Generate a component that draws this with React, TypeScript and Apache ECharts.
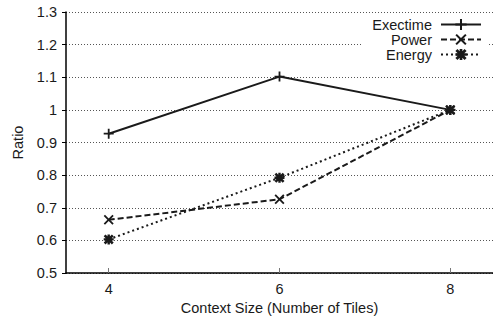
import React, { useEffect, useRef } from "react";
import * as echarts from "echarts";

const contextSizes = [4, 6, 8];
const exectime = [0.927, 1.102, 1.0];
const power = [0.663, 0.726, 1.0];
const energy = [0.603, 0.792, 1.0];
const yTicks = { min: 0.5, max: 1.3, interval: 0.1 };

const PLUS = "path://M4.1,0H5.9V4.1H10V5.9H5.9V10H4.1V5.9H0V4.1H4.1Z";
const CROSS =
  "path://M0,1.3L1.3,0L5,3.7L8.7,0L10,1.3L6.3,5L10,8.7L8.7,10L5,6.3L1.3,10L0,8.7L3.7,5Z";
const STAR =
  "path://M3.8,0H6.2V3.8H10V6.2H6.2V10H3.8V6.2H0V3.8H3.8Z M0,1.8L1.8,0L5,3.2L8.2,0L10,1.8L6.8,5L10,8.2L8.2,10L5,6.8L1.8,10L0,8.2L3.2,5Z";

const FONT = "Liberation Sans";
const INK = "#1a1a1a";
const FS = 14.5;

export default function App() {
  const ref = useRef<HTMLDivElement>(null);
  useEffect(() => {
    if (!ref.current) return;
    const chart = echarts.init(ref.current, null, { renderer: "svg" });
    const mk = (arr: number[]) => contextSizes.map((x, i) => [x, arr[i]]);
    chart.setOption({
      animation: false,
      backgroundColor: "#fff",
      textStyle: { fontFamily: FONT },
      grid: { left: 66, top: 12, bottom: 48, right: -8, containLabel: false },
      legend: {
        orient: "vertical",
        align: "right",
        right: 4,
        top: 14,
        padding: [3, 7, 3, 10],
        itemGap: 0,
        itemWidth: 40,
        itemHeight: 14,
        backgroundColor: "#fff",
        selectedMode: false,
        textStyle: {
          fontFamily: FONT,
          fontSize: FS,
          lineHeight: 14,
          color: INK,
          padding: [0, 4, 0, 0],
        },
        data: ["Exectime", "Power", "Energy"],
      },
      xAxis: {
        type: "value",
        min: 3.5,
        max: 8.5,
        name: "Context Size (Number of Tiles)",
        nameLocation: "middle",
        nameGap: 27,
        nameTextStyle: { fontFamily: FONT, fontSize: FS, color: INK },
        axisLine: { show: true, lineStyle: { color: "#000", width: 1.5 } },
        axisTick: {
          show: true,
          inside: true,
          length: 5,
          customValues: contextSizes,
          lineStyle: { color: "#777", width: 1 },
        },
        axisLabel: {
          customValues: contextSizes,
          fontFamily: FONT,
          fontSize: FS,
          color: INK,
          margin: 8,
        },
        splitLine: { show: false },
      },
      yAxis: {
        type: "value",
        min: yTicks.min,
        max: yTicks.max,
        interval: yTicks.interval,
        name: "Ratio",
        nameLocation: "middle",
        nameGap: 40,
        nameTextStyle: { fontFamily: FONT, fontSize: FS, color: INK },
        axisLine: { show: true, lineStyle: { color: "#000", width: 1.5 } },
        axisTick: { show: true, inside: false, length: 4, lineStyle: { color: "#000" } },
        axisLabel: {
          fontFamily: FONT,
          fontSize: FS,
          color: INK,
          margin: 9,
          formatter: (v: number) => String(Math.round(v * 10) / 10),
        },
        splitLine: {
          show: true,
          lineStyle: { color: "#555", type: [1, 2], width: 1 },
        },
      },
      series: [
        {
          name: "Exectime",
          type: "line",
          data: mk(exectime),
          symbol: PLUS,
          symbolSize: 10,
          color: INK,
          lineStyle: { color: INK, width: 2, type: "solid" },
          itemStyle: { color: INK },
        },
        {
          name: "Power",
          type: "line",
          data: mk(power),
          symbol: CROSS,
          symbolSize: 10,
          color: INK,
          lineStyle: { color: INK, width: 2, type: [6, 3] },
          itemStyle: { color: INK },
        },
        {
          name: "Energy",
          type: "line",
          data: mk(energy),
          symbol: STAR,
          symbolSize: 10,
          color: INK,
          lineStyle: { color: INK, width: 2, type: [2, 3] },
          itemStyle: { color: INK },
        },
      ],
    });
    return () => chart.dispose();
  }, []);
  return <div ref={ref} style={{ width: 493, height: 321, position: "absolute", left: 0, top: 0 }} />;
}
